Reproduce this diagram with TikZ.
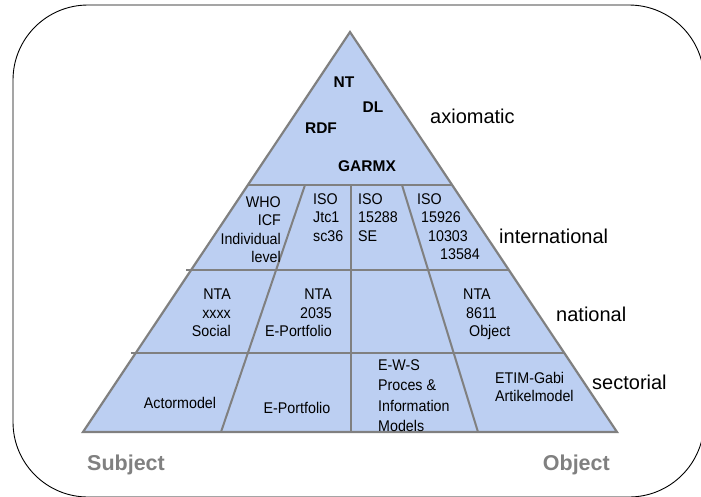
\documentclass[tikz,border=0pt]{standalone}
\usepackage{fontspec}
\setmainfont{Liberation Sans}
\newfontfamily\narrowfont[FakeStretch=0.92]{Liberation Sans}
\usetikzlibrary{calc}
\definecolor{pyrfill}{RGB}{188,207,242}
\definecolor{pyrline}{RGB}{128,128,128}
\newcommand\cellfont{\narrowfont\fontsize{15.5}{18.5}\selectfont}

\begin{document}
\begin{tikzpicture}[x=1pt,y=-1pt,
    frame/.style={draw=black, line width=0.9pt, rounded corners=75pt},
    divider/.style={draw=pyrline, line width=2pt},
    cell/.style={inner sep=0pt, font=\cellfont},
    term/.style={inner sep=0pt, font=\fontsize{15.5}{18}\selectfont\bfseries},
    level/.style={inner sep=0pt, anchor=west, font=\fontsize{20}{24}\selectfont},
    side/.style={inner sep=0pt, text=pyrline, font=\fontsize{21.5}{26}\selectfont\bfseries}]
  \useasboundingbox (0,0) rectangle (701,496);
  \clip (0,0) rectangle (701,496);
  \draw[frame] (13,5) rectangle (704,497);

  % pyramid
  \coordinate (apex)  at (350,32);
  \coordinate (left)  at (83,432);
  \coordinate (right) at (617,432);
  \fill[pyrfill] (apex) -- (right) -- (left) -- cycle;

  \coordinate (l1) at ($(apex)!0.3825!(left)$);
  \coordinate (r1) at ($(apex)!0.3825!(right)$);
  \coordinate (l2) at ($(apex)!0.595!(left)$);
  \coordinate (r2) at ($(apex)!0.595!(right)$);
  \coordinate (l3) at ($(apex)!0.8025!(left)$);
  \coordinate (r3) at ($(apex)!0.8025!(right)$);
  \draw[divider] (l1) -- (r1);
  \draw[divider] ($(l2)+(-5,0)$) -- (r2);
  \draw[divider] ($(l3)+(-5,0)$) -- (r3);

  \coordinate (d1t) at (305,185);
  \coordinate (d1b) at (221,432);
  \coordinate (d2t) at (351,185);
  \coordinate (d2b) at (351,432);
  \coordinate (d3t) at (402,185);
  \coordinate (d3b) at (478,432);
  \draw[divider] (d1t) -- (d1b);
  \draw[divider] (d2t) -- (d2b);
  \draw[divider] (d3t) -- (d3b);

  \draw[draw=pyrline, line width=2.2pt] (apex) -- (right) -- (left) -- cycle;

  % axiomatic
  \node[term] (nt)    at (344,82.5) {NT};
  \node[term] (dl)    at (373,107)  {DL};
  \node[term] (rdf)   at (321,128)  {RDF};
  \node[term] (garmx) at (367,166)  {GARMX};

  % international
  \node[cell, anchor=north east, align=right] (who) at (281,196)
    {WHO\\ICF\\Individual\\level};
  \node[cell, anchor=north west, align=left] (jtc) at (313,193)
    {ISO\\Jtc1\\sc36};
  \node[cell, anchor=north west, align=left] (se) at (358,193)
    {ISO\\15288\\SE};
  \node[cell, anchor=north west, align=left] (iso) at (417,193)
    {ISO\\\hspace*{4pt}15926\\\hspace*{11pt}10303\\\hspace*{23pt}13584};

  % national
  \node[cell, anchor=north east, align=right] (social) at (231,289)
    {NTA\\xxxx\\Social};
  \node[cell, anchor=north east, align=right] (portnat) at (332,289)
    {NTA\\2035\\E-Portfolio};
  \node[cell, anchor=north west, align=left] (object) at (463,289)
    {NTA\\\hspace*{3pt}8611\\\hspace*{6pt}Object};

  % sectorial
  \node[cell] (actor) at (180,403) {Actormodel};
  \node[cell] (portsec) at (297,408) {E-Portfolio};
  \node[cell, anchor=north west, align=left, font=\narrowfont\fontsize{15.5}{20.5}\selectfont] (ews) at (378,359)
    {E-W-S\\Proces \&\\Information\\Models};
  \node[cell, anchor=north west, align=left] (etim) at (495,372)
    {ETIM-Gabi\\Artikelmodel};

  % levels
  \node[level] (axio)  at (430,116) {axiomatic};
  \node[level] (inter) at (499,236) {international};
  \node[level] (natio) at (556,314) {national};
  \node[level] (secto) at (592,382) {sectorial};

  \node[side, anchor=base west] (subject) at (87,470) {Subject};
  \node[side, anchor=base east] (objlbl)  at (610,470) {Object};
\end{tikzpicture}
\end{document}
